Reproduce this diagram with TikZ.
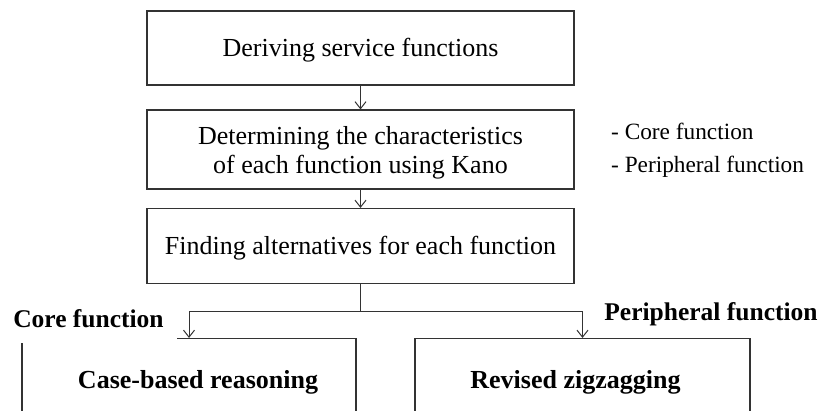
\documentclass[tikz,border=0pt]{standalone}
\usepackage{fontspec}
\setmainfont{Liberation Serif}
\usetikzlibrary{arrows.meta}
\begin{document}
\begin{tikzpicture}[x=1pt,y=-1pt,
  frame/.style={draw=black!80, line width=1.1pt, inner sep=0pt},
  stepbox/.style={frame, minimum width=427pt, align=center,
    text height=17pt, text depth=0pt, font=\fontsize{26}{29}\selectfont},
  steptext/.style={inner sep=0pt, align=center, font=\fontsize{26}{29}\selectfont},
  methodbox/.style={frame, minimum width=334pt, minimum height=82pt,
    text height=17pt, text depth=0pt, font=\bfseries\fontsize{26}{29}\selectfont},
  branchlabel/.style={fill=white, inner sep=0pt, font=\bfseries\fontsize{25.5}{29}\selectfont},
  note/.style={anchor=base west, inner sep=0pt, font=\fontsize{23.3}{27}\selectfont},
  link/.style={draw=black!80, line width=1pt},
  flow/.style={link, -{Straight Barb[length=7pt,width=11pt,line width=1pt]}}]
\useasboundingbox (0,0) rectangle (827,410);
\clip (0,0) rectangle (827,410);

% main sequence of steps
\node[stepbox, minimum height=74pt] (derive) at (360.5,48) {Deriving service functions};
\node[frame, minimum width=427pt, minimum height=79pt] (kano) at (360.5,149.5) {};
\node[steptext] (kanotext) at (360.5,153)
  {Determining the characteristics\\of each function using Kano};
\node[stepbox, minimum height=75pt] (alt) at (360.5,246)
  {Finding alternatives for each function};

% Kano categories
\node[note] (core) at (611,139) {- Core function};
\node[note] (peri) at (611,172) {- Peripheral function};

% the two methods
\node[methodbox] (cbr) at (189,379.5) {\hspace*{18pt}Case-based reasoning};
\node[methodbox, minimum width=335pt] (rz) at (582.5,379.5) {Revised zigzagging\hspace*{14pt}};

% branch labels (drawn on white, over the box corner)
\node[branchlabel, minimum width=177pt, minimum height=47pt] (corelbl) at (88.5,319) {Core function};
\node[branchlabel, minimum height=30pt, minimum width=225pt] (perilbl) at (711,314) {Peripheral function};

% connectors
\coordinate (split) at (360.5,311);
\draw[flow] (derive) -- (kano);
\draw[flow] (kano) -- (alt);
\draw[link] (alt) -- (split);
\draw[flow] (split) -| (cbr.north);
\draw[flow] (split) -| (rz.north);
\end{tikzpicture}
\end{document}
